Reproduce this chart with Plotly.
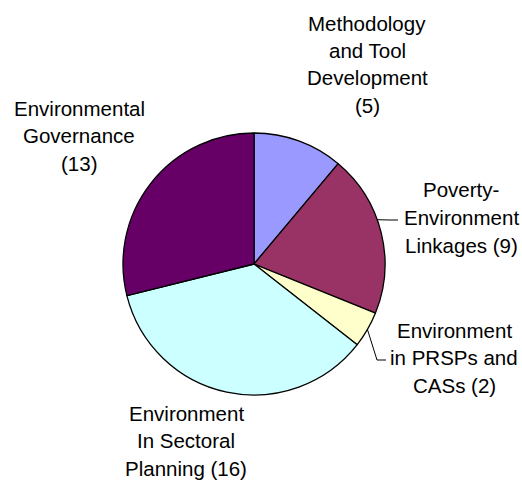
import math
import plotly.graph_objects as go

# ---- data ----
categories = [
    "Methodology and Tool Development",
    "Poverty-Environment Linkages",
    "Environment in PRSPs and CASs",
    "Environment In Sectoral Planning",
    "Environmental Governance",
]
values = [5, 9, 2, 16, 13]
label_lines = [
    ["Methodology", "and Tool", "Development", "(5)"],
    ["Poverty-", "Environment", "Linkages (9)"],
    ["Environment", "in PRSPs and", "CASs (2)"],
    ["Environment", "In Sectoral", "Planning (16)"],
    ["Environmental", "Governance", "(13)"],
]
colors = ["#9999FF", "#993366", "#FFFFCC", "#CCFFFF", "#660066"]

# ---- layout constants (window pixels) ----
W, H = 522, 485
CX, CY, R = 254, 264, 131
FONT = 20.5
# label block centre x and first line y, line spacing
label_pos = [(367, 23), (461, 190), (454, 330), (186, 413), (79, 108)]
LINE_H = 27.5
# leader lines: slice index -> (fraction along slice for anchor, elbow points)
leaders = {1: (0.42, [(390, 220), (398, 220)]), 2: (0.5, [(377, 360), (386, 360)])}


def px(x, y):
    return x / W, 1 - y / H


dx0, dy1 = px(CX - R, CY - R)
dx1, dy0 = px(CX + R, CY + R)

fig = go.Figure(
    go.Pie(
        labels=categories,
        values=values,
        sort=False,
        direction="clockwise",
        rotation=0,
        marker=dict(colors=colors, line=dict(color="black", width=1.3)),
        textinfo="none",
        hoverinfo="label+value",
        domain=dict(x=[dx0, dx1], y=[dy0, dy1]),
        showlegend=False,
    )
)

annotations = []
for lines, (lx, ly) in zip(label_lines, label_pos):
    for k, t in enumerate(lines):
        x, y = px(lx, ly + k * LINE_H)
        annotations.append(
            dict(x=x, y=y, xref="paper", yref="paper", text=t, showarrow=False,
                 xanchor="center", yanchor="middle",
                 font=dict(family="Arial, Liberation Sans, sans-serif", size=FONT, color="black"))
        )

shapes = []
total = sum(values)
cum = 0
for i, v in enumerate(values):
    if i in leaders:
        frac, elbows = leaders[i]
        ang = (cum + v * frac) / total * 2 * math.pi
        ex = CX + R * math.sin(ang)
        ey = CY - R * math.cos(ang)
        pts = [(ex, ey)] + elbows
        for (x0, y0), (x1, y1) in zip(pts[:-1], pts[1:]):
            a0, b0 = px(x0, y0)
            a1, b1 = px(x1, y1)
            shapes.append(dict(type="line", xref="paper", yref="paper", x0=a0, y0=b0, x1=a1, y1=b1,
                               line=dict(color="black", width=1)))
    cum += v

fig.update_layout(
    width=W, height=H,
    margin=dict(l=0, r=0, t=0, b=0),
    paper_bgcolor="white", plot_bgcolor="white",
    annotations=annotations,
    shapes=shapes,
)

fig.write_html(
    "out.html",
    config={"displayModeBar": False},
    post_script="document.body.style.margin='0';document.body.style.overflow='hidden';",
)
